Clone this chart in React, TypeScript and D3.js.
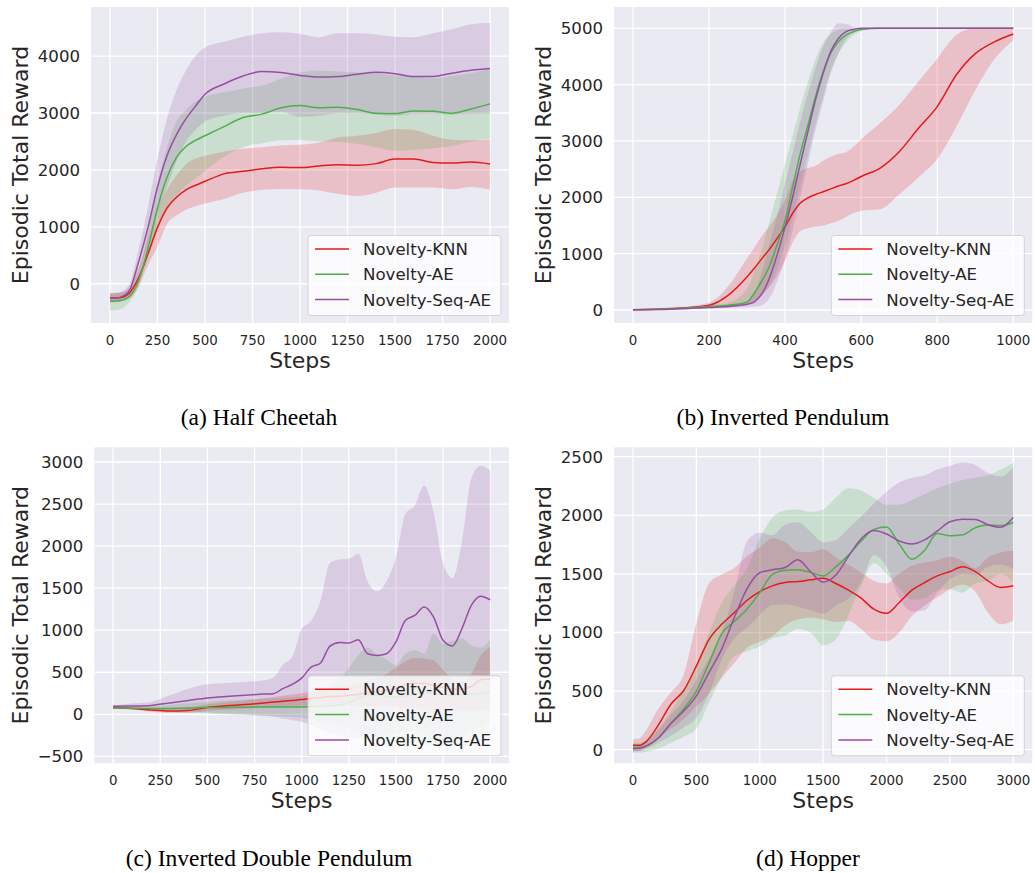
import React from 'react';
import * as d3 from 'd3';

// legend entries shared by all four panels
const seriesNames = ['Novelty-KNN', 'Novelty-AE', 'Novelty-Seq-AE'];
const seriesColors = ['#e41a1c', '#4daf4a', '#984ea3'];

// (a) Half Cheetah
const cheetahSteps = [0, 50, 100, 150, 200, 250, 300, 350, 400, 450, 500, 600, 700, 800, 900, 1000, 1100, 1200, 1300, 1400, 1500, 1600, 1700, 1800, 1900, 2000];
const cheetahKnn = [-250, -245, -170, 100, 530, 990, 1330, 1520, 1650, 1730, 1800, 1930, 1975, 2020, 2045, 2040, 2070, 2090, 2080, 2110, 2190, 2190, 2130, 2120, 2140, 2105];
const cheetahKnnLo = [-300, -295, -260, -60, 330, 650, 1050, 1200, 1300, 1360, 1410, 1490, 1600, 1650, 1665, 1660, 1640, 1580, 1540, 1600, 1690, 1690, 1690, 1660, 1700, 1650];
const cheetahKnnHi = [-160, -160, -80, 260, 780, 1300, 1650, 1900, 2100, 2200, 2250, 2320, 2370, 2400, 2430, 2440, 2480, 2570, 2600, 2650, 2720, 2700, 2600, 2530, 2520, 2530];
const cheetahAe = [-310, -300, -230, 50, 620, 1330, 1870, 2220, 2410, 2520, 2600, 2760, 2920, 2980, 3090, 3130, 3090, 3100, 3060, 2995, 2990, 3035, 3030, 2995, 3070, 3160];
const cheetahAeLo = [-470, -455, -330, -50, 450, 950, 1300, 1550, 1720, 1850, 1980, 2230, 2400, 2470, 2520, 2530, 2500, 2490, 2460, 2400, 2340, 2350, 2380, 2420, 2500, 2545];
const cheetahAeHi = [-170, -160, -100, 200, 900, 1750, 2400, 2850, 3050, 3200, 3290, 3360, 3430, 3480, 3600, 3710, 3740, 3730, 3710, 3700, 3660, 3650, 3610, 3650, 3700, 3780];
const cheetahSeq = [-260, -240, -130, 380, 990, 1700, 2250, 2620, 2900, 3120, 3330, 3510, 3650, 3730, 3710, 3660, 3630, 3640, 3680, 3715, 3690, 3640, 3640, 3700, 3750, 3780];
const cheetahSeqLo = [-330, -320, -230, 200, 700, 1250, 1700, 2150, 2500, 2700, 2850, 2950, 3000, 3000, 3020, 2930, 2950, 2990, 2990, 2970, 2950, 2980, 2985, 2970, 2980, 2985];
const cheetahSeqHi = [-180, -150, -20, 600, 1350, 2200, 2900, 3400, 3750, 4000, 4150, 4250, 4340, 4400, 4420, 4390, 4330, 4400, 4400, 4380, 4340, 4330, 4400, 4470, 4560, 4580];

// (b) Inverted Pendulum
const pendSteps = [0, 100, 200, 250, 300, 320, 340, 360, 380, 400, 420, 440, 460, 480, 500, 520, 540, 560, 580, 600, 650, 700, 750, 800, 850, 900, 950, 1000];
const pendKnn = [5, 25, 85, 260, 590, 750, 920, 1090, 1280, 1480, 1720, 1900, 1990, 2050, 2100, 2150, 2200, 2240, 2300, 2370, 2520, 2810, 3220, 3610, 4170, 4550, 4760, 4900];
const pendKnnLo = [0, 15, 30, 60, 120, 170, 280, 420, 620, 880, 1200, 1400, 1450, 1480, 1500, 1540, 1580, 1650, 1720, 1760, 1790, 2050, 2350, 2680, 3250, 3900, 4450, 4790];
const pendKnnHi = [10, 40, 130, 420, 920, 1120, 1320, 1500, 1700, 1960, 2300, 2460, 2520, 2560, 2650, 2720, 2770, 2800, 2900, 3030, 3320, 3640, 4050, 4460, 4880, 5000, 5000, 5000];
const pendAe = [5, 20, 60, 85, 140, 310, 530, 800, 1180, 1600, 2190, 2780, 3280, 3790, 4230, 4560, 4760, 4880, 4940, 4980, 5000, 5000, 5000, 5000, 5000, 5000, 5000, 5000];
const pendAeLo = [0, 10, 40, 60, 90, 150, 260, 450, 750, 1150, 1650, 2200, 2750, 3300, 3800, 4250, 4550, 4750, 4880, 4950, 5000, 5000, 5000, 5000, 5000, 5000, 5000, 5000];
const pendAeHi = [10, 30, 90, 130, 380, 700, 1100, 1600, 2100, 2600, 3100, 3600, 4050, 4450, 4750, 4900, 4980, 5000, 5000, 5000, 5000, 5000, 5000, 5000, 5000, 5000, 5000, 5000];
const pendSeq = [5, 15, 45, 60, 100, 150, 300, 590, 1000, 1480, 2010, 2600, 3170, 3730, 4200, 4590, 4820, 4940, 4980, 5000, 5000, 5000, 5000, 5000, 5000, 5000, 5000, 5000];
const pendSeqLo = [0, 10, 30, 40, 50, 60, 90, 220, 520, 920, 1420, 2000, 2600, 3200, 3700, 4200, 4550, 4800, 4920, 4980, 5000, 5000, 5000, 5000, 5000, 5000, 5000, 5000];
const pendSeqHi = [10, 20, 60, 80, 160, 320, 700, 1200, 1700, 2250, 2800, 3350, 3850, 4300, 4680, 4930, 5090, 5080, 5020, 5000, 5000, 5000, 5000, 5000, 5000, 5000, 5000, 5000];

// (c) Inverted Double Pendulum
const doubleSteps = [0, 100, 200, 300, 400, 500, 600, 700, 800, 850, 900, 950, 1000, 1050, 1100, 1150, 1200, 1250, 1300, 1350, 1400, 1450, 1500, 1550, 1600, 1650, 1700, 1750, 1800, 1850, 1900, 1950, 2000];
const doubleKnn = [80, 70, 50, 38, 45, 80, 100, 115, 135, 145, 155, 165, 175, 190, 200, 210, 215, 225, 235, 255, 270, 285, 310, 350, 370, 365, 345, 320, 300, 300, 330, 410, 420];
const doubleKnnLo = [70, 60, 30, 15, 15, 40, 55, 65, 80, 85, 90, 95, 100, 105, 110, 110, 110, 105, 100, 100, 100, 95, 90, 80, 75, 70, 60, 50, 40, 40, 45, 50, 50];
const doubleKnnHi = [90, 80, 70, 65, 80, 120, 145, 165, 190, 205, 220, 235, 250, 270, 290, 310, 320, 340, 370, 400, 430, 480, 550, 630, 670, 660, 640, 530, 420, 380, 480, 700, 800];
const doubleAe = [75, 72, 68, 70, 75, 80, 82, 85, 87, 87, 88, 88, 88, 92, 95, 100, 110, 140, 190, 230, 225, 215, 205, 215, 235, 250, 250, 235, 225, 235, 240, 245, 258];
const doubleAeLo = [65, 55, 45, 30, 20, 10, 0, -10, -15, -20, -25, -30, -40, -60, -80, -100, -130, -170, -220, -260, -300, -320, -330, -330, -340, -360, -380, -400, -390, -370, -340, -330, -320];
const doubleAeHi = [85, 88, 92, 110, 130, 150, 165, 175, 185, 190, 195, 200, 210, 240, 270, 320, 420, 550, 700, 790, 710, 650, 582, 720, 760, 720, 958, 840, 870, 900, 820, 790, 887];
const doubleSeq = [95, 98, 105, 135, 165, 195, 212, 225, 240, 245, 305, 356, 430, 560, 610, 810, 855, 847, 887, 720, 700, 720, 860, 1115, 1175, 1275, 1155, 880, 812, 1017, 1295, 1405, 1362];
const doubleSeqLo = [80, 75, 60, 45, 35, 20, 10, 0, -20, -30, -50, -70, -90, -130, -180, -220, -250, -270, -290, -280, -260, -250, -230, -200, -190, -230, -300, -330, -290, -250, -200, -150, -100];
const doubleSeqHi = [100, 127, 146, 226, 305, 356, 372, 384, 404, 435, 590, 680, 1017, 1110, 1350, 1800, 1840, 1849, 1910, 1580, 1465, 1580, 1868, 2380, 2480, 2720, 2400, 1800, 1620, 2050, 2800, 2957, 2898];

// (d) Hopper
const hopperSteps = [0, 50, 100, 200, 300, 400, 500, 600, 700, 800, 900, 1000, 1100, 1200, 1300, 1400, 1500, 1600, 1700, 1800, 1900, 2000, 2100, 2200, 2300, 2400, 2500, 2600, 2700, 2800, 2900, 3000];
const hopperKnn = [37, 37, 65, 210, 390, 505, 715, 942, 1070, 1170, 1275, 1349, 1398, 1426, 1435, 1449, 1463, 1418, 1361, 1293, 1199, 1164, 1256, 1361, 1426, 1483, 1520, 1560, 1520, 1441, 1384, 1398];
const hopperKnnLo = [-10, -10, 20, 110, 180, 260, 370, 480, 615, 740, 870, 920, 970, 1060, 1110, 1125, 1113, 1090, 1099, 1030, 940, 925, 1000, 1140, 1230, 1300, 1370, 1410, 1350, 1170, 1070, 1100];
const hopperKnnHi = [90, 95, 160, 350, 490, 640, 1080, 1420, 1495, 1550, 1650, 1725, 1805, 1770, 1690, 1685, 1710, 1640, 1577, 1512, 1441, 1418, 1503, 1569, 1597, 1617, 1646, 1611, 1549, 1640, 1683, 1697];
const hopperAe = [17, 20, 28, 100, 225, 350, 500, 740, 990, 1095, 1200, 1340, 1495, 1530, 1535, 1513, 1483, 1560, 1660, 1780, 1880, 1900, 1754, 1625, 1700, 1845, 1825, 1834, 1893, 1917, 1912, 1939];
const hopperAeLo = [-25, -25, -20, 10, 60, 110, 180, 400, 620, 800, 840, 880, 950, 975, 1030, 1000, 890, 940, 1150, 1400, 1590, 1500, 1380, 1280, 1290, 1360, 1370, 1340, 1420, 1440, 1500, 1430];
const hopperAeHi = [60, 60, 80, 180, 330, 500, 700, 1000, 1250, 1400, 1550, 1800, 1980, 2040, 2050, 2030, 2050, 2150, 2230, 2210, 2150, 2090, 2090, 2130, 2180, 2230, 2270, 2300, 2320, 2340, 2390, 2450];
const hopperSeq = [10, 12, 30, 100, 225, 330, 460, 660, 860, 1130, 1375, 1510, 1535, 1555, 1620, 1520, 1430, 1490, 1650, 1800, 1870, 1840, 1780, 1755, 1790, 1865, 1945, 1967, 1965, 1920, 1898, 1982];
const hopperSeqLo = [-15, -15, 5, 60, 120, 190, 270, 480, 770, 950, 1040, 1150, 1235, 1240, 1220, 1190, 1160, 1230, 1290, 1430, 1660, 1560, 1300, 1180, 1190, 1340, 1455, 1500, 1490, 1560, 1580, 1540];
const hopperSeqHi = [40, 40, 60, 170, 300, 420, 600, 780, 1000, 1350, 1780, 1850, 1830, 1920, 1940, 1860, 1770, 1790, 1890, 1990, 2100, 2200, 2280, 2320, 2340, 2390, 2420, 2450, 2430, 2360, 2330, 2408];

// axis ticks
const cheetahXTicks = [0, 250, 500, 750, 1000, 1250, 1500, 1750, 2000];
const cheetahYTicks = [0, 1000, 2000, 3000, 4000];
const pendXTicks = [0, 200, 400, 600, 800, 1000];
const pendYTicks = [0, 1000, 2000, 3000, 4000, 5000];
const doubleXTicks = [0, 250, 500, 750, 1000, 1250, 1500, 1750, 2000];
const doubleYTicks = [-500, 0, 500, 1000, 1500, 2000, 2500, 3000];
const hopperXTicks = [0, 500, 1000, 1500, 2000, 2500, 3000];
const hopperYTicks = [0, 500, 1000, 1500, 2000, 2500];

const FONT = '"DejaVu Sans", sans-serif';
const INK = '#262626';

type Band = { mean: number[]; lo: number[]; hi: number[] };

const fmt = (v: number) => (v < 0 ? '\u2212' + Math.abs(v) : String(v));

function Panel(props: any) {
  const { id, box, xDomain, yDomain, xTicks, yTicks, steps, bands, labelX, caption, capX, capY } = props;
  const [x0, y0, x1, y1] = box;
  const x = d3.scaleLinear().domain(xDomain).range([x0, x1]);
  const y = d3.scaleLinear().domain(yDomain).range([y1, y0]);

  const areaGen = (b: Band) =>
    d3.area<number>()
      .x(d => x(d))
      .y0((_, i) => y(b.lo[i]))
      .y1((_, i) => y(b.hi[i]))
      .curve(d3.curveMonotoneX)(steps) as string;
  const lineGen = (b: Band) =>
    d3.line<number>()
      .x(d => x(d))
      .y((_, i) => y(b.mean[i]))
      .curve(d3.curveMonotoneX)(steps) as string;

  // legend box in the lower right corner
  const lw = 193, lh = 80;
  const lx = x1 - 8 - lw, ly = y1 - 7.5 - lh;

  return (
    <g>
      <defs>
        <clipPath id={'clip-' + id}>
          <rect x={x0} y={y0} width={x1 - x0} height={y1 - y0} />
        </clipPath>
      </defs>
      <rect x={x0} y={y0} width={x1 - x0} height={y1 - y0} fill="#eaeaf2" />
      {xTicks.map((t: number) => (
        <line key={'gx' + t} x1={x(t)} x2={x(t)} y1={y0} y2={y1} stroke="#fff" strokeWidth={1.3} />
      ))}
      {yTicks.map((t: number) => (
        <line key={'gy' + t} x1={x0} x2={x1} y1={y(t)} y2={y(t)} stroke="#fff" strokeWidth={1.3} />
      ))}
      <g clipPath={`url(#clip-${id})`}>
        {bands.map((b: Band, i: number) => (
          <path key={'a' + i} d={areaGen(b)} fill={seriesColors[i]} fillOpacity={0.2} />
        ))}
        {bands.map((b: Band, i: number) => (
          <path key={'l' + i} d={lineGen(b)} fill="none" stroke={seriesColors[i]} strokeWidth={1.5} />
        ))}
      </g>
      {xTicks.map((t: number) => (
        <text key={'tx' + t} x={x(t)} y={y1 + 21.5} textAnchor="middle" fontSize={13.4} fill={INK} fontFamily={FONT}>
          {fmt(t)}
        </text>
      ))}
      {yTicks.map((t: number) => (
        <text key={'ty' + t} x={x0 - 11} y={y(t)} dy="0.36em" textAnchor="end" fontSize={16.6} fill={INK} fontFamily={FONT}>
          {fmt(t)}
        </text>
      ))}
      <text x={(x0 + x1) / 2} y={y1 + 44.5} textAnchor="middle" fontSize={22} fill={INK} fontFamily={FONT}>
        Steps
      </text>
      <text
        transform={`translate(${labelX},${(y0 + y1) / 2}) rotate(-90)`}
        textAnchor="middle"
        fontSize={22}
        fill={INK}
        fontFamily={FONT}
      >
        Episodic Total Reward
      </text>
      <rect x={lx} y={ly} width={lw} height={lh} rx={3} fill="#fff" fillOpacity={0.8} stroke="#cccccc" strokeOpacity={0.8} />
      {seriesNames.map((n, i) => (
        <g key={n}>
          <line x1={lx + 7} x2={lx + 41} y1={ly + 13.5 + i * 25.3} y2={ly + 13.5 + i * 25.3} stroke={seriesColors[i]} strokeWidth={1.5} />
          <text x={lx + 55} y={ly + 13.5 + i * 25.3} dy="0.36em" fontSize={16.6} fill={INK} fontFamily={FONT}>
            {n}
          </text>
        </g>
      ))}
      <text x={capX} y={capY} textAnchor="middle" fontSize={23.5} fill="#000" fontFamily='"Liberation Serif", serif'>
        {caption}
      </text>
    </g>
  );
}

export default function App() {
  return (
    <svg width={1035} height={873} style={{ position: 'absolute', left: 0, top: 0, background: '#fff' }}>
      <Panel
        id="a"
        box={[91, 7, 509, 323]}
        xDomain={[-100, 2100]}
        yDomain={[-690, 4862]}
        xTicks={cheetahXTicks}
        yTicks={cheetahYTicks}
        steps={cheetahSteps}
        bands={[
          { mean: cheetahKnn, lo: cheetahKnnLo, hi: cheetahKnnHi },
          { mean: cheetahAe, lo: cheetahAeLo, hi: cheetahAeHi },
          { mean: cheetahSeq, lo: cheetahSeqLo, hi: cheetahSeqHi },
        ]}
        labelX={28}
        caption="(a) Half Cheetah"
        capX={259}
        capY={425}
      />
      <Panel
        id="b"
        box={[614, 7, 1032.3, 323]}
        xDomain={[-50, 1050]}
        yDomain={[-231, 5378]}
        xTicks={pendXTicks}
        yTicks={pendYTicks}
        steps={pendSteps}
        bands={[
          { mean: pendKnn, lo: pendKnnLo, hi: pendKnnHi },
          { mean: pendAe, lo: pendAeLo, hi: pendAeHi },
          { mean: pendSeq, lo: pendSeqLo, hi: pendSeqHi },
        ]}
        labelX={551}
        caption="(b) Inverted Pendulum"
        capX={783}
        capY={425}
      />
      <Panel
        id="c"
        box={[94.3, 447.3, 509, 763.3]}
        xDomain={[-100, 2100]}
        yDomain={[-583, 3175]}
        xTicks={doubleXTicks}
        yTicks={doubleYTicks}
        steps={doubleSteps}
        bands={[
          { mean: doubleKnn, lo: doubleKnnLo, hi: doubleKnnHi },
          { mean: doubleAe, lo: doubleAeLo, hi: doubleAeHi },
          { mean: doubleSeq, lo: doubleSeqLo, hi: doubleSeqHi },
        ]}
        labelX={28}
        caption="(c) Inverted Double Pendulum"
        capX={269}
        capY={866}
      />
      <Panel
        id="d"
        box={[614, 447.3, 1032.3, 763.3]}
        xDomain={[-150, 3150]}
        yDomain={[-116, 2580]}
        xTicks={hopperXTicks}
        yTicks={hopperYTicks}
        steps={hopperSteps}
        bands={[
          { mean: hopperKnn, lo: hopperKnnLo, hi: hopperKnnHi },
          { mean: hopperAe, lo: hopperAeLo, hi: hopperAeHi },
          { mean: hopperSeq, lo: hopperSeqLo, hi: hopperSeqHi },
        ]}
        labelX={551}
        caption="(d) Hopper"
        capX={808}
        capY={866}
      />
    </svg>
  );
}
